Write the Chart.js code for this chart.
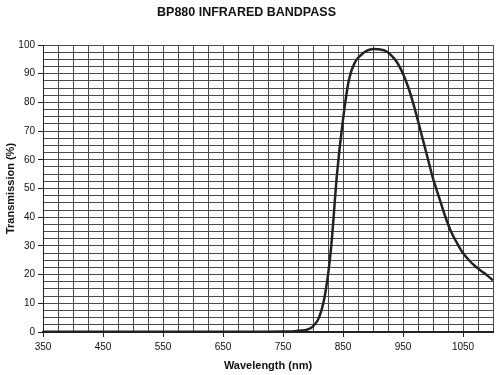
<!DOCTYPE html>
<html>
<head>
<meta charset="utf-8">
<script src="https://cdn.jsdelivr.net/npm/chart.js@4/dist/chart.umd.min.js"></script>
<style>
html,body{margin:0;padding:0;background:#fff;}
canvas{display:block;}
</style>
</head>
<body>
<canvas id="c" width="500" height="375"></canvas>
<script>
const wavelengths = [350,400,450,500,550,600,650,700,750,770,780,790,800,810,820,830,840,850,860,870,880,890,900,910,920,930,940,950,960,970,980,990,1000,1010,1020,1030,1040,1050,1060,1070,1080,1090,1100];
const transmission = [0.1,0.1,0.1,0.1,0.1,0.1,0.1,0.1,0.2,0.3,0.5,0.8,2,5,13,29,55,74,88,94,96.5,98,98.6,98.5,98,96.5,94,90,84.5,77.5,69.5,61.5,53.5,47,40.5,35,31,27.5,25,23,21.3,19.8,18];
const xLabelTicks = [350,450,550,650,750,850,950,1050];
const yLabelTicks = [0,10,20,30,40,50,60,70,80,90,100];

const FONT = "'Liberation Sans', Arial, sans-serif";
const points = wavelengths.map((w,i)=>({x:w,y:transmission[i]}));

new Chart(document.getElementById('c'), {
  type: 'line',
  data: { datasets: [{
    data: points,
    borderColor: '#222',
    borderWidth: 2.5,
    pointRadius: 0,
    cubicInterpolationMode: 'monotone',
    fill: false
  }]},
  options: {
    responsive: false,
    animation: false,
    layout: { padding: { left: 0, right: 7, top: 0, bottom: 0 } },
    plugins: {
      legend: { display: false },
      tooltip: { enabled: false },
      title: {
        display: true,
        text: 'BP880 INFRARED BANDPASS',
        color: '#111',
        font: { family: FONT, size: 12.5, weight: 'bold', lineHeight: 1.2 },
        padding: { top: 5, bottom: 25 }
      }
    },
    scales: {
      x: {
        type: 'linear',
        min: 350, max: 1100,
        afterBuildTicks: s => { const t=[]; for(let v=350; v<=1100; v+=25) t.push({value:v}); s.ticks=t; },
        afterFit: s => { s.height = 43; },
        ticks: {
          autoSkip: false, maxRotation: 0, padding: 4,
          color: '#111',
          font: { family: FONT, size: 10 },
          callback: v => xLabelTicks.includes(v) ? String(v) : ''
        },
        grid: {
          color: '#4a4a4a', lineWidth: 1, drawTicks: true, tickLength: 5,
          tickColor: c => (c.tick && xLabelTicks.includes(c.tick.value)) ? '#222' : 'rgba(0,0,0,0)'
        },
        border: { color: '#222', width: 2 },
        title: {
          display: true, text: 'Wavelength (nm)', color: '#111',
          font: { family: FONT, size: 11, weight: 'bold', lineHeight: 1.2 },
          padding: { top: 0, bottom: 2 }
        }
      },
      y: {
        min: 0, max: 100,
        afterBuildTicks: s => { const t=[]; for(let v=0; v<=100; v+=2.5) t.push({value:v}); s.ticks=t; },
        afterFit: s => { s.width = 43; },
        ticks: {
          autoSkip: false, padding: 3,
          color: '#111',
          font: { family: FONT, size: 10 },
          callback: v => yLabelTicks.includes(v) ? String(v) : ''
        },
        grid: {
          color: '#4a4a4a', lineWidth: 1, drawTicks: true, tickLength: 5,
          tickColor: c => (c.tick && yLabelTicks.includes(c.tick.value)) ? '#222' : 'rgba(0,0,0,0)'
        },
        border: { color: '#222', width: 1 },
        title: {
          display: true, text: 'Transmission (%)', color: '#111',
          font: { family: FONT, size: 11, weight: 'bold', lineHeight: 1.2 },
          padding: { top: 4, bottom: 0 }
        }
      }
    }
  },
  plugins: [{
    id: 'bg',
    beforeDraw: ch => { const c=ch.ctx; c.save(); c.fillStyle='#fff'; c.fillRect(0,0,ch.width,ch.height); c.restore(); }
  }]
});
</script>
</body>
</html>
